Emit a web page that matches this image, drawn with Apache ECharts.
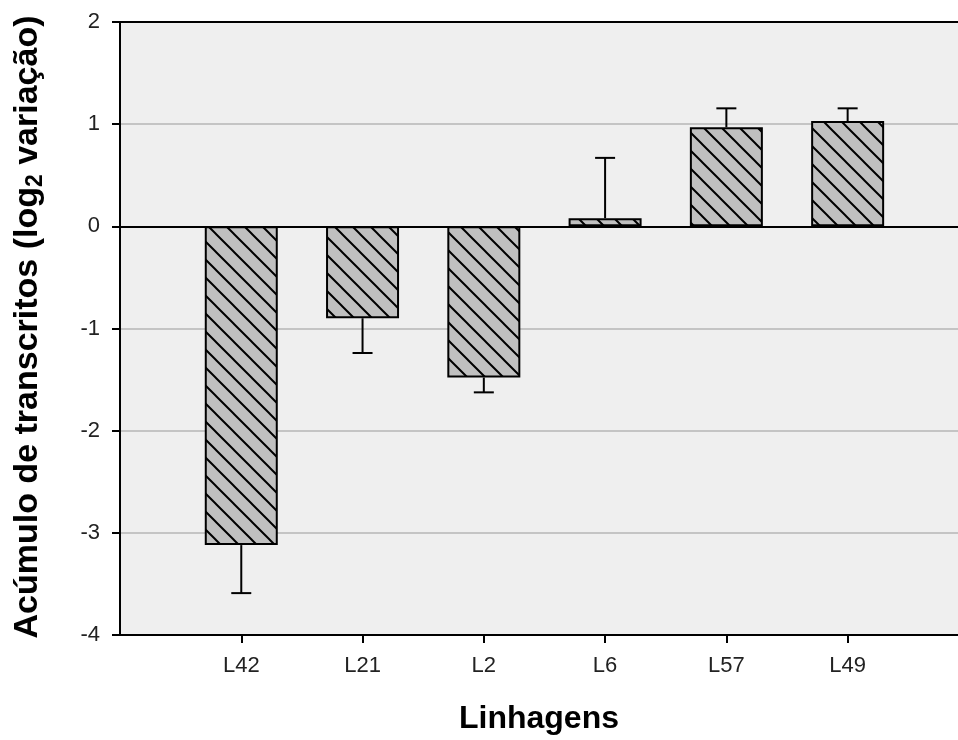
<!DOCTYPE html>
<html>
<head>
<meta charset="utf-8">
<script src="https://cdn.jsdelivr.net/npm/echarts@6/dist/echarts.min.js"></script>
<style>
html,body{margin:0;padding:0;background:#fff;}
#chart{width:958px;height:740px;}
</style>
</head>
<body>
<div id="chart"></div>
<script>
// ---- data ----
const categories = ['L42', 'L21', 'L2', 'L6', 'L57', 'L49'];
const means = [-3.12, -0.90, -1.48, 0.08, 0.97, 1.03];
const errors = [0.47, 0.34, 0.145, 0.59, 0.185, 0.125];
const yTicks = [-4, -3, -2, -1, 0, 1, 2];

// hatch pattern
const s = 18;
const cv = document.createElement('canvas');
cv.width = s; cv.height = s;
const ctx = cv.getContext('2d');
ctx.fillStyle = '#c0c0c0';
ctx.fillRect(0, 0, s, s);
ctx.strokeStyle = '#000';
ctx.lineWidth = 2;
ctx.beginPath();
ctx.moveTo(-2, -2); ctx.lineTo(s + 2, s + 2);
ctx.moveTo(-2, s - 2); ctx.lineTo(2, s + 2);
ctx.moveTo(s - 2, -2); ctx.lineTo(s + 2, 2);
ctx.stroke();

const barData = means.map((v, i) => [i + 1, v]);
const errData = means.map((v, i) => [i + 1, v, errors[i]]);
const tickPos = categories.map((c, i) => i + 1);
const FONT = 'Liberation Sans, Arial, sans-serif';

const chart = echarts.init(document.getElementById('chart'), null, {renderer: 'canvas'});
const option = {
  animation: false,
  backgroundColor: '#fff',
  grid: {left: 120, top: 22, bottom: 104, right: -2, show: true, backgroundColor: '#efefef', borderWidth: 0},
  xAxis: [{
    type: 'value', min: 0, max: 6.91, interval: 1,
    axisLine: {onZero: false, lineStyle: {color: '#000', width: 2}},
    axisTick: {show: true, length: 8, lineStyle: {color: '#000', width: 2}, customValues: tickPos},
    axisLabel: {
      customValues: tickPos,
      margin: 20, fontSize: 22, color: '#222', fontFamily: FONT,
      formatter: v => categories[Math.round(v) - 1] || ''
    },
    splitLine: {show: false},
    name: 'Linhagens', nameLocation: 'middle', nameGap: 68,
    nameTextStyle: {fontSize: 32, fontWeight: 'bold', color: '#000', fontFamily: FONT}
  }, {
    type: 'value', position: 'top', min: 0, max: 6.91,
    axisLine: {show: true, onZero: false, lineStyle: {color: '#000', width: 2}},
    axisTick: {show: false}, axisLabel: {show: false}, splitLine: {show: false}
  }],
  yAxis: {
    type: 'value', min: -4, max: 2, interval: 1,
    axisLine: {show: true, onZero: false, lineStyle: {color: '#000', width: 2}},
    axisTick: {show: true, length: 8, lineStyle: {color: '#000', width: 2}},
    axisLabel: {margin: 20, fontSize: 22, color: '#222', fontFamily: FONT,
      formatter: v => yTicks.includes(v) ? String(v) : ''},
    splitLine: {show: true, showMinLine: false, showMaxLine: false, lineStyle: {color: '#c4c4c4', width: 2}}
  },
  graphic: [{
    type: 'text', x: 28, y: 327, rotation: Math.PI / 2,
    style: {
      text: '{a|Acúmulo de transcritos (log}{b|2}{a| variação)}',
      align: 'center', verticalAlign: 'middle',
      rich: {
        a: {fontSize: 34, fontWeight: 'bold', fill: '#000', lineHeight: 38, fontFamily: FONT},
        b: {fontSize: 23, fontWeight: 'bold', fill: '#000', lineHeight: 23, verticalAlign: 'bottom', fontFamily: FONT}
      }
    }
  }],
  series: [{
    type: 'bar', xAxisIndex: 0, data: barData, barWidth: 73,
    itemStyle: {color: {image: cv, repeat: 'repeat'}, borderColor: '#000', borderWidth: 2},
    markLine: {
      silent: true, symbol: 'none', label: {show: false},
      lineStyle: {color: '#000', width: 2, type: 'solid'},
      data: [{yAxis: 0}]
    }
  }, {
    type: 'custom', xAxisIndex: 0, data: errData, z: 5,
    renderItem: (params, api) => {
      const x = api.value(0), v = api.value(1), e = api.value(2);
      const end = v >= 0 ? v + e : v - e;
      const p0 = api.coord([x, v]);
      const p1 = api.coord([x, end]);
      const half = 10;
      return {type: 'group', children: [
        {type: 'line', shape: {x1: p0[0], y1: p0[1], x2: p1[0], y2: p1[1]}, style: {stroke: '#000', lineWidth: 2}},
        {type: 'line', shape: {x1: p1[0] - half, y1: p1[1], x2: p1[0] + half, y2: p1[1]}, style: {stroke: '#000', lineWidth: 2}}
      ]};
    }
  }]
};
chart.setOption(option);
</script>
</body>
</html>
